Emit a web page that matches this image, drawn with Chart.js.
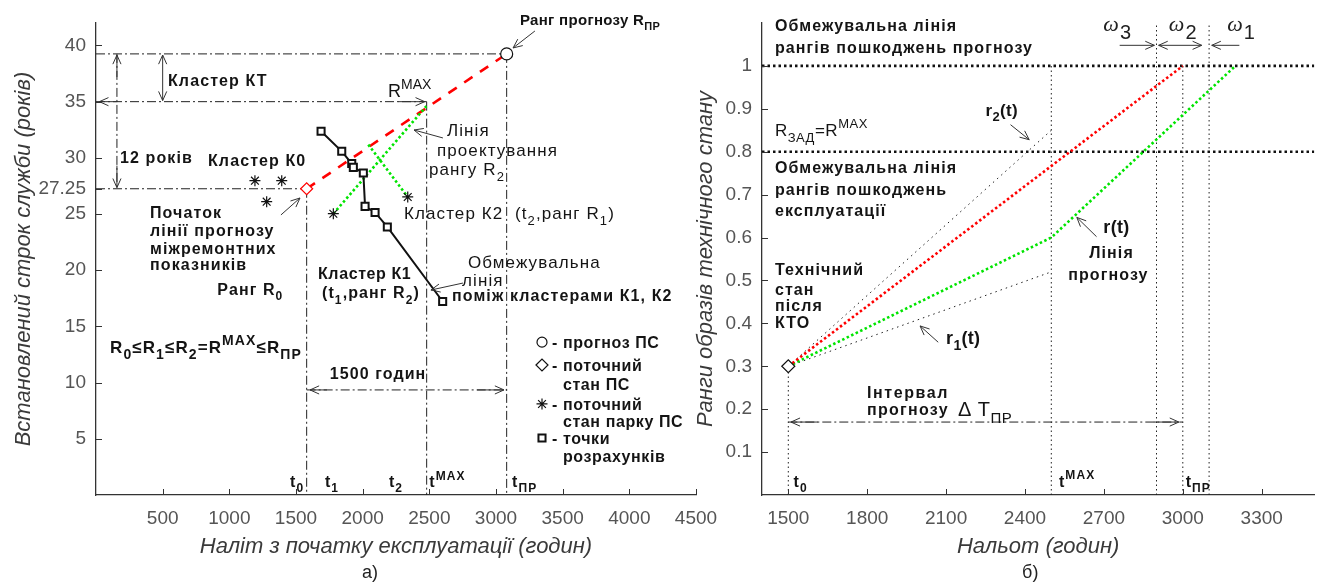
<!DOCTYPE html>
<html><head><meta charset="utf-8">
<script src="https://cdn.jsdelivr.net/npm/chart.js@4.4.0/dist/chart.umd.min.js"></script>
<style>
html,body{margin:0;padding:0;background:#fff;width:1322px;height:585px;overflow:hidden}
#c1{position:absolute;left:0;top:0}
#c2{position:absolute;left:690px;top:0}
</style></head><body>
<canvas id="c1" width="730" height="585"></canvas>
<canvas id="c2" width="632" height="585"></canvas>
<script>
// ---------- panel а) data ----------
const aXTicks = [500,1000,1500,2000,2500,3000,3500,4000,4500];
const aYTicks = [5,10,15,20,25,27.25,30,35,40];
const aMoments = [1580, 2480, 3080];          // t0, tMAX, tПР
const aRanks = [27.25, 35, 39.25];            // R0, RMAX, RПР
const aForecastX = [1580, 3080];
const aForecastY = [27.25, 39.25];
const aCalcX = [1688, 1843, 1918, 1930, 2005, 2018, 2093, 2185, 2600];
const aCalcY = [32.37, 30.58, 29.49, 29.15, 28.66, 25.68, 25.14, 23.85, 17.22];
const aFleetX = [1192, 1393, 1280];
const aFleetY = [27.97, 27.97, 26.1];
const aProjAX = [1780, 2478];
const aProjAY = [25.03, 34.6];
const aProjBX = [2042, 2338];
const aProjBY = [31.18, 26.52];
const aKTx = 500;      // Кластер КТ arrow
const a12x = 157;      // 12 років arrow
const a1500y = 9.35;   // 1500 годин arrow

// ---------- panel б) data ----------
const bXTicks = [1500,1800,2100,2400,2700,3000,3300];
const bYTicks = [0.1,0.2,0.3,0.4,0.5,0.6,0.7,0.8,0.9,1];
const bMoments = [1500, 2500, 2900, 3000, 3100]; // t0, tMAX, ω-boundary, tПР, ω-boundary
const bLimits = [0.8, 1.0];
const bRedX = [1500, 3000];
const bRedY = [0.3, 1.0];
const bGreenX = [1500, 2500, 3200];
const bGreenY = [0.3, 0.6, 1.0];
const bR2X = [1500, 2500];
const bR2Y = [0.3, 0.85];
const bR1X = [1500, 2500];
const bR1Y = [0.3, 0.52];
const bStart = [1500, 0.3];
const bIntervalY = 0.17;
const bOmegaY = 1.048;

const FONT = '"Liberation Sans", Arial, Helvetica, sans-serif';
const DD = [9,3,2,3];

function seg(xs, ys, st){ return Object.assign({data: xs.map((x,i)=>({x:x, y:ys[i]})), showLine:true, pointRadius:0, borderColor:'#222', borderWidth:1, fill:false}, st||{}); }
function pts(xs, ys, st){ return Object.assign({data: xs.map((x,i)=>({x:x, y:ys[i]})), showLine:false}, st||{}); }
function fontStr(size,bold,italic,fam){return (italic?'italic ':'')+(bold?'bold ':'')+size+'px '+(fam||FONT);}
function parseRich(s){ const out=[]; const re=/([_^])\{([^}]*)\}/g; let last=0,m; while((m=re.exec(s))){ if(m.index>last) out.push({t:s.slice(last,m.index),k:0}); out.push({t:m[2],k:m[1]==='_'?1:2}); last=re.lastIndex; } if(last<s.length) out.push({t:s.slice(last),k:0}); return out; }
function richText(ctx,x,y,s,o){
  const size=o.size||16, parts=parseRich(s), sr=o.sr||0.75;
  ctx.letterSpacing=(o.ls||0)+'px';
  let w=0; const m=parts.map(p=>{const sz=p.k?Math.round(size*sr):size; ctx.font=fontStr(sz,o.b,o.i,o.fam); const pw=ctx.measureText(p.t).width; w+=pw; return [sz,pw];});
  let cx=o.align==='center'?x-w/2:o.align==='right'?x-w:x;
  const base=y+size*0.36;
  ctx.fillStyle=o.color||'#141414'; ctx.textAlign='left'; ctx.textBaseline='alphabetic';
  parts.forEach((p,i)=>{ctx.font=fontStr(m[i][0],o.b,o.i,o.fam); const dy=p.k===1?size*0.33:p.k===2?-size*0.45:0; ctx.fillText(p.t,cx,base+dy); cx+=m[i][1];});
  ctx.letterSpacing='0px';
}
function arrowHead(ctx,tx,ty,fx,fy){ const a=Math.atan2(ty-fy,tx-fx), L=10, W=0.42; ctx.beginPath(); ctx.moveTo(tx-L*Math.cos(a-W),ty-L*Math.sin(a-W)); ctx.lineTo(tx,ty); ctx.lineTo(tx-L*Math.cos(a+W),ty-L*Math.sin(a+W)); ctx.stroke(); }
function drawNotes(chart, cfg){
  const ctx=chart.ctx, X=chart.scales.x, Y=chart.scales.y, a=chart.chartArea;
  ctx.save();
  ctx.strokeStyle='#333'; ctx.lineWidth=1; ctx.setLineDash([]); ctx.beginPath();
  X.ticks.forEach(t=>{const p=Math.round(X.getPixelForValue(t.value))+0.5; ctx.moveTo(p,a.bottom); ctx.lineTo(p,a.bottom-6);});
  Y.ticks.forEach(t=>{const p=Math.round(Y.getPixelForValue(t.value))+0.5; ctx.moveTo(a.left,p); ctx.lineTo(a.left+6,p);});
  ctx.stroke();
  ctx.strokeStyle='#333'; ctx.lineWidth=1;
  (cfg.arrows||[]).forEach(ar=>{
    const fx=X.getPixelForValue(ar.from[0]), fy=Y.getPixelForValue(ar.from[1]), tx=X.getPixelForValue(ar.to[0]), ty=Y.getPixelForValue(ar.to[1]);
    ctx.beginPath(); ctx.moveTo(fx,fy); ctx.lineTo(tx,ty); ctx.stroke();
    arrowHead(ctx,tx,ty,fx,fy); if(ar.both) arrowHead(ctx,fx,fy,tx,ty);
  });
  (cfg.heads||[]).forEach(h=>{
    const tx=X.getPixelForValue(h.at[0]), ty=Y.getPixelForValue(h.at[1]);
    const d={l:[1,0],r:[-1,0],u:[0,1],dn:[0,-1]}[h.dir];
    const fx=tx+d[0]*h.stub, fy=ty+d[1]*h.stub;
    ctx.beginPath(); ctx.moveTo(fx,fy); ctx.lineTo(tx,ty); ctx.stroke(); arrowHead(ctx,tx,ty,fx,fy);
  });
  (cfg.symbols||[]).forEach(s=>{
    ctx.strokeStyle='#111'; ctx.fillStyle='#fff'; ctx.lineWidth=s.bw||1.2;
    Chart.helpers.drawPoint(ctx,{pointStyle:s.style,radius:s.r,borderWidth:s.bw||1.2,rotation:0},X.getPixelForValue(s.at[0]),Y.getPixelForValue(s.at[1]));
  });
  (cfg.texts||[]).forEach(t=>{
    const o={b:t.b,align:t.align,i:t.i,fam:t.fam,sr:t.sr};
    o.size=t.size||(t.b?16:17); o.ls=(t.ls!==undefined)?t.ls:1.1;
    richText(ctx,X.getPixelForValue(t.x),Y.getPixelForValue(t.y),t.s,o);
  });
  (cfg.omegas||[]).forEach(o=>{
    const px=X.getPixelForValue(o.x), py=Y.getPixelForValue(o.y);
    ctx.fillStyle='#222'; ctx.textAlign='left'; ctx.textBaseline='middle';
    ctx.font='italic 22px "Liberation Serif", "DejaVu Serif", serif'; ctx.fillText('ω',px,py-1);
    const w=ctx.measureText('ω').width;
    ctx.font='20px '+FONT; ctx.fillText(o.sub,px+w+1,py+7);
  });
  if(cfg.caption){ ctx.fillStyle='#222'; ctx.font='18px '+FONT; ctx.textAlign='center'; ctx.textBaseline='middle'; ctx.fillText(cfg.caption.s, X.getPixelForValue(cfg.caption.x), X.bottom-12); }
  ctx.restore();
}
function opts(xmin,xmax,ymin,ymax,xt,yt,yw,padR,xTitle,yTitle,yTitlePad,notes){
  return {
    responsive:false, animation:false, events:[],
    layout:{padding:{left:0,top:23,right:padR,bottom:0}},
    plugins:{legend:{display:false}, tooltip:{enabled:false}, notes:notes},
    scales:{
      x:{type:'linear',min:xmin,max:xmax,grid:{display:false,drawTicks:false},border:{display:true,color:'#333',width:1.3},
         ticks:{font:{size:19,family:FONT},color:'#555',padding:12,maxRotation:0,autoSkip:false,callback:v=>String(v)},
         title:{display:true,text:xTitle,font:{size:22,style:'italic',family:FONT},color:'#3a3a3a',padding:{top:0,bottom:25}},
         afterBuildTicks:s=>{s.ticks=xt.map(v=>({value:v}));},
         afterFit:s=>{s.height=90; s.paddingLeft=0; s.paddingRight=0;}},
      y:{type:'linear',min:ymin,max:ymax,grid:{display:false,drawTicks:false},border:{display:true,color:'#333',width:1.3},
         ticks:{font:{size:19,family:FONT},color:'#555',padding:10,autoSkip:false,callback:v=>String(v)},
         title:{display:true,text:yTitle,font:{size:22,style:'italic',family:FONT},color:'#3a3a3a',padding:{top:yTitlePad,bottom:0}},
         afterBuildTicks:s=>{s.ticks=yt.map(v=>({value:v}));},
         afterFit:s=>{s.width=yw; s.paddingTop=0; s.paddingBottom=0;}}
    }
  };
}
const notesPlugin={id:'notes', afterDatasetsDraw(chart,args,o){ drawNotes(chart,o); }};

// ---------- panel а) ----------
const [t0,tMax,tPr]=aMoments, [r0,rMax,rPr]=aRanks;
const aNotes = {
  caption:{s:'а)', x:2055},
  arrows:[
    {from:[3292,41.29], to:[3128,39.78]},
    {from:[2602,31.77], to:[2385,32.48]},
    {from:[1387,24.92], to:[1530,26.43]},
    {from:[2752,18.86], to:[2512,18.24]},
    {from:[aKTx,rMax+0.1], to:[aKTx,rPr-0.1], both:true}
  ],
  heads:[
    {at:[25,rMax],dir:'l',stub:18},{at:[tMax-15,rMax],dir:'r',stub:26},
    {at:[a12x,rPr-0.1],dir:'u',stub:22},{at:[a12x,r0+0.1],dir:'dn',stub:22},
    {at:[t0+25,a1500y],dir:'l',stub:17},{at:[tPr-20,a1500y],dir:'r',stub:27}
  ],
  symbols:[
    {style:'circle',r:5,at:[3345,13.6]},
    {style:'rectRot',r:6,at:[3345,11.57]},
    {style:'star',r:5.5,at:[3345,8.1]},
    {style:'rect',r:5,bw:2,at:[3345,5.07]}
  ],
  texts:[
    {x:3180,y:42.27,s:'Ранг прогнозу R_{ПР}',b:1,size:15,ls:0.3},
    {x:540,y:36.93,s:'Кластер КТ',b:1},
    {x:2190,y:36.0,s:'R^{MAX}',size:18,ls:0},
    {x:2632,y:32.48,s:'Лінія'},
    {x:2557,y:30.7,s:'проектування'},
    {x:2497,y:29.0,s:'рангу R_{2}'},
    {x:180,y:30.08,s:'12 років',b:1},
    {x:840,y:29.81,s:'Кластер К0',b:1},
    {x:405,y:25.18,s:'Початок',b:1},
    {x:405,y:23.58,s:'лінії прогнозу',b:1},
    {x:405,y:21.98,s:'міжремонтних',b:1},
    {x:405,y:20.56,s:'показників',b:1},
    {x:2310,y:25.09,s:'Кластер К2  (t_{2},ранг R_{1})'},
    {x:1665,y:19.75,s:'Кластер К1',b:1,ls:0.6},
    {x:1695,y:18.0,s:'(t_{1},ранг R_{2})',b:1},
    {x:2790,y:20.73,s:'Обмежувальна'},
    {x:2745,y:19.13,s:'лінія'},
    {x:2670,y:17.8,s:'поміж кластерами К1, К2',b:1},
    {x:910,y:18.33,s:'Ранг R_{0}',b:1},
    {x:105,y:13.17,s:'R_{0}≤R_{1}≤R_{2}=R^{MAX}≤R_{ПР}',b:1,size:17,ls:1.1,sr:0.8},
    {x:2115,y:10.86,s:'1500 годин',b:1,align:'center'},
    {x:3420,y:13.6,s:'- прогноз ПС',b:1,ls:0.6},
    {x:3420,y:11.57,s:'- поточний',b:1,ls:0.6},
    {x:3502,y:9.88,s:'стан ПС',b:1,ls:0.6},
    {x:3420,y:8.1,s:'- поточний',b:1,ls:0.6},
    {x:3502,y:6.58,s:'стан парку ПС',b:1,ls:0.6},
    {x:3420,y:5.07,s:'- точки',b:1,ls:0.6},
    {x:3502,y:3.47,s:'розрахунків',b:1,ls:0.6},
    {x:1455,y:1.25,s:'t_{0}',b:1},
    {x:1717,y:1.25,s:'t_{1}',b:1},
    {x:2197,y:1.25,s:'t_{2}',b:1},
    {x:2500,y:1.25,s:'t^{MAX}',b:1},
    {x:3120,y:1.25,s:'t_{ПР}',b:1}
  ]
};
new Chart(document.getElementById('c1'),{
  type:'scatter',
  data:{datasets:[
    pts([tPr],[rPr],{pointStyle:'circle',pointRadius:6,borderColor:'#111',backgroundColor:'#fff',borderWidth:1.2}),
    pts([t0],[r0],{pointStyle:'rectRot',pointRadius:6,borderColor:'#ff0000',backgroundColor:'#fff',borderWidth:1.2}),
    pts(aFleetX,aFleetY,{pointStyle:'star',pointRadius:5.5,borderColor:'#111',borderWidth:1.2}),
    pts([aProjAX[0],aProjBX[1]],[aProjAY[0],aProjBY[1]],{pointStyle:'star',pointRadius:5.5,borderColor:'#111',borderWidth:1.2}),
    seg(aCalcX,aCalcY,{borderColor:'#111',borderWidth:2,pointRadius:5,pointStyle:'rect',pointBorderColor:'#111',pointBackgroundColor:'#fff',pointBorderWidth:2}),
    seg(aProjAX,aProjAY,{borderColor:'#00e400',borderWidth:2.6,borderDash:[2.5,2.5]}),
    seg(aProjBX,aProjBY,{borderColor:'#00e400',borderWidth:2.6,borderDash:[2.5,2.5]}),
    seg(aForecastX,aForecastY,{borderColor:'#ff0000',borderWidth:2.6,borderDash:[10,9]}),
    seg([0,tPr],[rPr,rPr],{borderDash:DD}),
    seg([0,tMax],[rMax,rMax],{borderDash:DD}),
    seg([0,t0],[r0,r0],{borderDash:DD}),
    seg([t0,t0],[r0,0],{borderDash:DD}),
    seg([tMax,tMax],[rMax,0],{borderDash:DD}),
    seg([tPr,tPr],[rPr,0],{borderDash:DD}),
    seg([a12x,a12x],[rPr,r0],{borderDash:DD}),
    seg([t0,tPr],[a1500y,a1500y],{borderDash:DD})
  ]},
  options:opts(0,4500,0,42,aXTicks,aYTicks,96,34,'Наліт з початку експлуатації (годин)','Встановлений строк служби (років)',11,aNotes),
  plugins:[notesPlugin]
});

// ---------- panel б) ----------
const [b0,bMax,bW3,bPr,bW1]=bMoments;
const bNotes = {
  caption:{s:'б)', x:2420},
  arrows:[
    {from:[2345,0.863], to:[2416,0.828]},
    {from:[2672,0.602], to:[2597,0.647]},
    {from:[2070,0.356], to:[2001,0.394]},
    {from:[2760,bOmegaY], to:[bW3-8,bOmegaY]},
    {from:[bW3+8,bOmegaY], to:[bW1-28,bOmegaY], both:true},
    {from:[3215,bOmegaY], to:[bW1+10,bOmegaY]}
  ],
  heads:[
    {at:[b0+10,bIntervalY],dir:'l',stub:27},{at:[bPr-15,bIntervalY],dir:'r',stub:25}
  ],
  omegas:[{x:2698,y:1.093,sub:'3'},{x:2947,y:1.093,sub:'2'},{x:3169,y:1.093,sub:'1'}],
  texts:[
    {x:1449,y:1.095,s:'Обмежувальна лінія',b:1},
    {x:1449,y:1.044,s:'рангів пошкоджень прогнозу',b:1},
    {x:1449,y:0.851,s:'R_{ЗАД}=R^{MAX}',size:17,ls:0.5},
    {x:1449,y:0.765,s:'Обмежувальна лінія',b:1},
    {x:1449,y:0.712,s:'рангів пошкоджень',b:1},
    {x:1449,y:0.663,s:'експлуатації',b:1},
    {x:1449,y:0.526,s:'Технічний',b:1},
    {x:1449,y:0.479,s:'стан',b:1},
    {x:1449,y:0.442,s:'після',b:1},
    {x:1449,y:0.402,s:'КТО',b:1},
    {x:2250,y:0.898,s:'r_{2}(t)',b:1,size:17,ls:0.3},
    {x:2698,y:0.626,s:'r(t)',b:1,size:18,ls:0.3},
    {x:2729,y:0.565,s:'Лінія',b:1,align:'center'},
    {x:2717,y:0.514,s:'прогнозу',b:1,align:'center'},
    {x:2100,y:0.367,s:'r_{1}(t)',b:1,size:18,ls:0.3},
    {x:1799,y:0.24,s:'Інтервал',b:1,ls:1.6},
    {x:1799,y:0.2,s:'прогнозу',b:1,ls:1.3},
    {x:2145,y:0.2,s:'Δ T_{ПР}',size:20,ls:0.5},
    {x:1520,y:0.033,s:'t_{0}',b:1},
    {x:2529,y:0.033,s:'t^{MAX}',b:1},
    {x:3011,y:0.033,s:'t_{ПР}',b:1}
  ]
};
const TD=[1.5,3];
new Chart(document.getElementById('c2'),{
  type:'scatter',
  data:{datasets:[
    pts([bStart[0]],[bStart[1]],{pointStyle:'rectRot',pointRadius:6.5,borderColor:'#111',backgroundColor:'#fff',borderWidth:1.2}),
    seg(bRedX,bRedY,{borderColor:'#ff0000',borderWidth:2.6,borderDash:[2.5,2.5]}),
    seg(bGreenX,bGreenY,{borderColor:'#00e400',borderWidth:2.6,borderDash:[2.5,2.5]}),
    seg(bR2X,bR2Y,{borderColor:'#222',borderWidth:1,borderDash:[1.5,4]}),
    seg(bR1X,bR1Y,{borderColor:'#222',borderWidth:1,borderDash:[1.5,4]}),
    seg([1400,3500],[bLimits[1],bLimits[1]],{borderColor:'#111',borderWidth:2.6,borderDash:[2.5,3]}),
    seg([1400,3500],[bLimits[0],bLimits[0]],{borderColor:'#111',borderWidth:2.6,borderDash:[2.5,3]}),
    seg([b0,b0],[0,bStart[1]],{borderDash:TD}),
    seg([bMax,bMax],[0,bLimits[1]],{borderDash:TD}),
    seg([bW3,bW3],[0,1.1],{borderDash:TD}),
    seg([bPr,bPr],[0,bLimits[1]],{borderDash:TD}),
    seg([bW1,bW1],[0,1.1],{borderDash:TD}),
    seg([b0,bPr],[bIntervalY,bIntervalY],{borderDash:DD})
  ]},
  options:opts(1400,3500,0,1.1,bXTicks,bYTicks,72,2,'Нальот (годин)','Ранги образів технічного стану',3,bNotes),
  plugins:[notesPlugin]
});
</script></body></html>
